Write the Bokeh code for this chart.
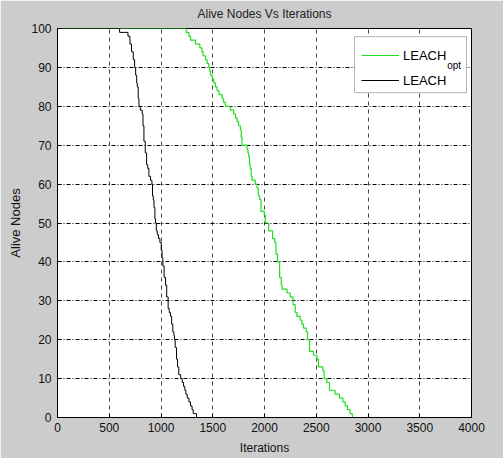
from bokeh.plotting import figure
from bokeh.models import Range1d, SingleIntervalTicker, Legend, LegendItem, Label, BoxAnnotation
from bokeh.embed import file_html
from bokeh.resources import INLINE

# ---- data ----
leach_iter = [0, 600, 681, 700, 715, 732, 745, 755, 765, 771, 780, 787, 800, 819, 826,
              835, 848, 861, 872, 883, 899, 912, 918, 925, 932, 941, 947, 955, 964, 975,
              989, 1002, 1010, 1018, 1030, 1044, 1055, 1069, 1080, 1092, 1103, 1114, 1125,
              1131, 1137, 1150, 1160, 1172, 1190, 1205, 1218, 1230, 1240, 1253, 1270, 1285,
              1300, 1311, 1343]
leach_alive = [100, 99, 98, 96, 94, 92, 90, 88, 86, 85, 82, 80, 79, 78, 75,
               71, 68, 65, 64, 62, 61, 60, 57, 56, 54, 51, 50, 48, 47, 46,
               45, 43, 41, 39, 36, 34, 31, 28, 27, 26, 24, 22, 21,
               20, 18, 15, 13, 11, 10, 9, 8, 7, 6, 5, 4, 3,
               2, 1, 0]

opt_iter = [0, 1243, 1270, 1285, 1333, 1375, 1395, 1407, 1429, 1445, 1461, 1470, 1478,
            1495, 1510, 1525, 1542, 1560, 1590, 1605, 1622, 1670, 1702, 1720, 1735, 1750,
            1767, 1775, 1783, 1831, 1840, 1847, 1855, 1863, 1872, 1880, 1911, 1928, 1940,
            1953, 1966, 1998, 2008, 2040, 2078, 2098, 2111, 2126, 2146, 2162, 2169, 2217,
            2249, 2275, 2297, 2313, 2345, 2361, 2377, 2403, 2416, 2435, 2473, 2506, 2521,
            2564, 2576, 2602, 2628, 2682, 2724, 2757, 2779, 2801, 2827, 2849]
opt_alive = [100, 99, 98, 97, 96, 95, 94, 93, 92, 91, 90, 89, 88,
             87, 86, 85, 84, 83, 82, 81, 80, 79, 78, 77, 76, 75,
             74, 72, 70, 69, 68, 67, 65, 64, 62, 61, 60, 59, 57,
             56, 53, 52, 50, 48, 46, 45, 42, 40, 36, 34, 33, 32,
             31, 29, 27, 26, 25, 24, 23, 22, 20, 17, 16, 15, 13,
             12, 10, 9, 7, 6, 5, 4, 3, 2, 1, 0]

series_labels = ["LEACH", "LEACH"]
subscript_label = "opt"

x_ticks_step = 500
y_ticks_step = 10

FONT = "Liberation Sans"
GREY = "#cccccc"

p = figure(width=503, height=458, output_backend="svg", toolbar_location=None,
           x_range=Range1d(0, 4000), y_range=Range1d(0, 100),
           min_border_left=57, min_border_right=32, min_border_top=28, min_border_bottom=41)

p.border_fill_color = GREY
p.background_fill_color = "white"
p.outline_line_color = "black"
p.outline_line_width = 1

p.title.text = "Alive Nodes Vs Iterations"
p.title.align = "center"
p.title.vertical_align = "top"
p.title.text_font = FONT
p.title.text_font_size = "12px"
p.title.text_font_style = "normal"
p.title.text_color = "#222222"
p.title.standoff = 11

p.xaxis.ticker = SingleIntervalTicker(interval=x_ticks_step)
p.yaxis.ticker = SingleIntervalTicker(interval=y_ticks_step)

for ax in (p.xaxis[0], p.yaxis[0]):
    ax.major_tick_in = 4
    ax.major_tick_out = 0
    ax.minor_tick_in = 0
    ax.minor_tick_out = 0
    ax.axis_line_color = "black"
    ax.major_tick_line_color = "black"
    ax.major_label_text_font = FONT
    ax.major_label_text_font_size = "12px"
    ax.major_label_text_color = "#111111"
    ax.axis_label_text_font = FONT
    ax.axis_label_text_font_style = "normal"
    ax.axis_label_text_color = "#111111"

p.xaxis.major_label_standoff = 5
p.yaxis.major_label_standoff = 6
p.xaxis.axis_label = "Iterations"
p.xaxis.axis_label_text_font_size = "12px"
p.xaxis.axis_label_standoff = 6
p.yaxis.axis_label = "Alive Nodes"
p.yaxis.axis_label_text_font_size = "13px"
p.yaxis.axis_label_standoff = 5

p.xgrid.grid_line_color = "#444444"
p.xgrid.grid_line_dash = "4 4"
p.xgrid.grid_line_width = 1
p.ygrid.grid_line_color = "black"
p.ygrid.grid_line_dash = "4 2 1 2"
p.ygrid.grid_line_width = 1

# legend background box (drawn above the grid, below the data lines)
legend_box = BoxAnnotation(left=2870, right=3952, top=97.9, bottom=83.5,
                           fill_color="white", fill_alpha=1,
                           line_color="black", line_width=1, level="underlay")
p.add_layout(legend_box)

r_opt = p.step(opt_iter, opt_alive, mode="after", line_color="#22dd22", line_width=1.2)
r_leach = p.step(leach_iter, leach_alive, mode="after", line_color="black", line_width=1)

legend = Legend(items=[LegendItem(label=series_labels[0], renderers=[r_opt]),
                       LegendItem(label=series_labels[1], renderers=[r_leach])],
                location=(297, 321), orientation="vertical",
                border_line_alpha=0, background_fill_alpha=0,
                padding=7, spacing=7, glyph_width=38, glyph_height=18,
                label_height=18, label_width=60, label_standoff=4,
                label_text_font=FONT, label_text_font_size="13px",
                label_text_color="black", margin=0)
p.add_layout(legend, "center")

sub = Label(x=3765, y=90.6, text=subscript_label, text_font=FONT, text_font_size="10px",
            text_color="black", text_baseline="alphabetic")
p.add_layout(sub)

open("out.html", "w").write(file_html(p, INLINE))
